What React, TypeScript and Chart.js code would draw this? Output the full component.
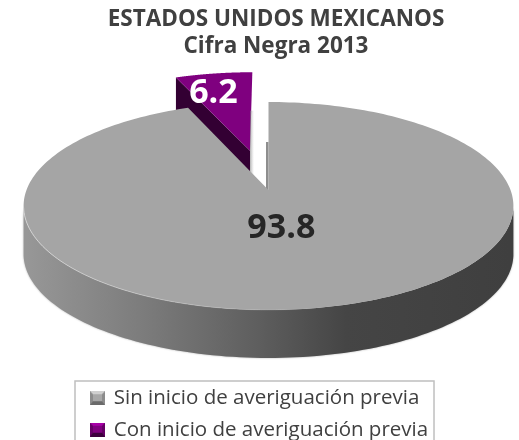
import React, { useEffect, useRef } from "react";
import { Chart, registerables } from "chart.js";

Chart.register(...registerables);

const titleLines = ["ESTADOS UNIDOS MEXICANOS", "Cifra Negra 2013"];
const categories = ["Sin inicio de averiguación previa", "Con inicio de averiguación previa"];
const values = [93.8, 6.2];
const sliceOffsets = [0, 42];
const faceColors = ["#a5a5a5", "#7f007f"];
const sideColors = ["#606060", "#330033"];
const labelColors = ["#262626", "#ffffff"];
const labelAnchors = [[0.05, 0.36], [-0.185, -0.7]];

const FONT = "'Open Sans', sans-serif";
const RADIUS = 100;
// Perspective projection of the pie's disc on the page
const P = { cx: 268.5, y0: 190, a: 242, b: 101.5, k: 0.1538, depth: 48 };

const project = (u: number, v: number): [number, number] => {
  const d = 1 - P.k * v;
  return [P.cx + (P.a * u) / d, P.y0 + (P.b * v) / d];
};

function bevel(base: string, light: string, dark: string, mid: string) {
  const c = document.createElement("canvas");
  c.width = 15;
  c.height = 14;
  const g = c.getContext("2d")!;
  const poly = (color: string, pts: number[][]) => {
    g.fillStyle = color;
    g.beginPath();
    pts.forEach((p, i) => (i ? g.lineTo(p[0], p[1]) : g.moveTo(p[0], p[1])));
    g.closePath();
    g.fill();
  };
  poly(mid, [[0, 0], [15, 0], [15, 14], [0, 14]]);
  poly(light, [[0, 0], [15, 0], [12, 3], [3, 3]]);
  poly(dark, [[0, 14], [15, 14], [12, 10], [3, 10]]);
  poly(base, [[3, 3], [12, 3], [12, 10], [3, 10]]);
  return c;
}

const pie3d = {
  id: "pie3d",
  beforeDatasetDraw(chart: any, args: any) {
    const { ctx } = chart;
    const arcs = chart.getDatasetMeta(args.index).data;
    const shapes = arcs.map((arc: any) => {
      const off = (arc.options.offset || 0) / arc.outerRadius;
      const mid = (arc.startAngle + arc.endAngle) / 2;
      const tu = Math.cos(mid) * off;
      const tv = Math.sin(mid) * off;
      const rim: number[][] = [];
      const n = 240;
      for (let i = 0; i <= n; i++) {
        const a = arc.startAngle + ((arc.endAngle - arc.startAngle) * i) / n;
        rim.push([tu + Math.cos(a), tv + Math.sin(a)]);
      }
      return { tu, tv, rim };
    });
    const trace = (pts: number[][], dy = 0, move = true) => {
      pts.forEach((p, i) => {
        const [x, y] = project(p[0], p[1]);
        if (i === 0 && move) ctx.moveTo(x, y + dy);
        else ctx.lineTo(x, y + dy);
      });
    };
    ctx.save();

    // exploded slice: cut wall, face, soft shadow at its straight edge
    const s = shapes[1];
    const corner = s.rim[0];
    const apex = [s.tu, s.tv];
    ctx.fillStyle = sideColors[1];
    ctx.beginPath();
    trace([apex, corner]);
    trace([corner, apex], P.depth, false);
    ctx.closePath();
    ctx.fill();
    ctx.fillStyle = faceColors[1];
    ctx.beginPath();
    trace([apex, ...s.rim]);
    ctx.closePath();
    ctx.fill();
    const [ax, ay] = project(apex[0], apex[1]);
    const sg = ctx.createLinearGradient(ax, 0, ax + 4, 0);
    sg.addColorStop(0, "rgba(130,130,130,0.6)");
    sg.addColorStop(1, "rgba(170,170,170,0)");
    ctx.fillStyle = sg;
    ctx.fillRect(ax, ay - 40, 4, 66);

    // main slice: front wall
    const m = shapes[0];
    const front = m.rim.filter((p: number[]) => p[1] >= 0.154);
    const wall = ctx.createLinearGradient(P.cx - P.a, 0, P.cx + P.a, 0);
    wall.addColorStop(0, "#979797");
    wall.addColorStop(0.24, "#7c7c7c");
    wall.addColorStop(0.48, "#5e5e5e");
    wall.addColorStop(0.66, "#454545");
    wall.addColorStop(1, "#3f3f3f");
    ctx.save();
    ctx.shadowColor = "rgba(0,0,0,0.35)";
    ctx.shadowBlur = 2;
    ctx.fillStyle = wall;
    ctx.beginPath();
    trace(front);
    trace([...front].reverse(), P.depth, false);
    ctx.closePath();
    ctx.fill();
    ctx.restore();

    // sliver of the cut wall beside the gap
    const [mx, my] = project(0, 0);
    ctx.fillStyle = "#8e8e8e";
    ctx.fillRect(mx - 2.5, my - 48, 2.5, 48);

    // main slice: face and rim highlight
    ctx.fillStyle = faceColors[0];
    ctx.beginPath();
    trace([[m.tu, m.tv], ...m.rim]);
    ctx.closePath();
    ctx.fill();
    const hl = ctx.createLinearGradient(P.cx - P.a, 0, P.cx + 60, 0);
    hl.addColorStop(0, "rgba(215,215,215,0.9)");
    hl.addColorStop(1, "rgba(215,215,215,0)");
    ctx.strokeStyle = hl;
    ctx.lineWidth = 1;
    ctx.beginPath();
    trace(front);
    ctx.stroke();

    // value labels
    ctx.font = `bold 34px ${FONT}`;
    ctx.textAlign = "center";
    ctx.textBaseline = "middle";
    shapes.forEach((sh: any, i: number) => {
      const [x, y] = project(sh.tu + labelAnchors[i][0], sh.tv + labelAnchors[i][1]);
      ctx.fillStyle = labelColors[i];
      ctx.fillText(String(values[i]), x, y);
    });
    ctx.restore();
    return false;
  },
  afterDraw(chart: any) {
    const { ctx, legend } = chart;
    ctx.save();
    ctx.strokeStyle = "#bfbfbf";
    ctx.lineWidth = 1.5;
    ctx.strokeRect(legend.left - 5.5, 381, 359, 80);
    ctx.restore();
  },
};

export default function App() {
  const ref = useRef<HTMLCanvasElement>(null);
  useEffect(() => {
    document.body.style.margin = "0";
    const markers = [
      bevel("#a8a8a8", "#d0d0d0", "#6a6a6a", "#8c8c8c"),
      bevel("#800080", "#a800a8", "#3c003c", "#660066"),
    ];
    const chart = new Chart(ref.current!, {
      type: "pie",
      data: {
        labels: categories,
        datasets: [{ data: values, backgroundColor: faceColors, borderWidth: 0, offset: sliceOffsets }],
      },
      plugins: [pie3d],
      options: {
        responsive: false,
        animation: false,
        events: [],
        radius: RADIUS,
        layout: { padding: { left: 80.5, right: 47.5, top: 0, bottom: -10 } },
        plugins: {
          tooltip: { enabled: false },
          title: {
            display: true,
            text: titleLines,
            color: "#404040",
            font: { family: FONT, size: 22.5, weight: "bold", lineHeight: 1.22 },
            padding: { top: 5.5, bottom: 0 },
          },
          legend: {
            display: true,
            position: "bottom",
            align: "start",
            labels: {
              color: "#404040",
              font: { family: FONT, size: 20.5 },
              padding: 11,
              usePointStyle: true,
              boxHeight: 14,
              pointStyleWidth: 12,
              generateLabels: (c: any) =>
                categories.map((text, i) => ({
                  text,
                  pointStyle: markers[i],
                  fillStyle: faceColors[i],
                  strokeStyle: faceColors[i],
                  lineWidth: 0,
                  fontColor: "#404040",
                  hidden: false,
                  index: i,
                })),
            },
          },
        },
      } as any,
    });
    return () => chart.destroy();
  }, []);
  return <canvas ref={ref} width={519} height={440} style={{ display: "block" }} />;
}
